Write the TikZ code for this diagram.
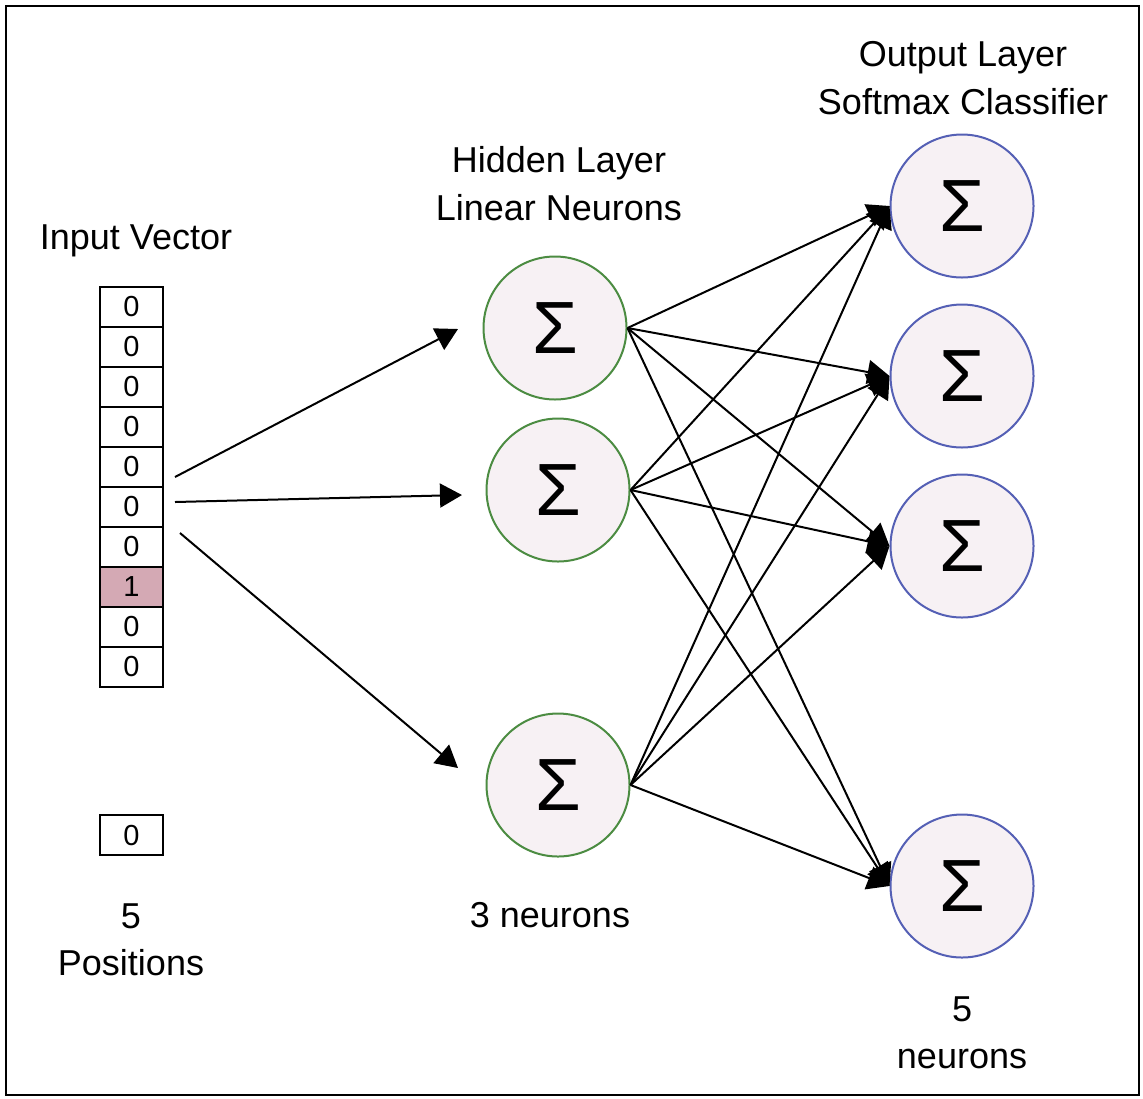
\documentclass[tikz,border=0pt]{standalone}
\usepackage{fontspec}
\setmainfont{Liberation Sans}
\usetikzlibrary{arrows.meta}

\definecolor{hidgreen}{RGB}{76,140,66}
\definecolor{outblue}{RGB}{85,96,181}
\definecolor{neurfill}{RGB}{247,241,244}
\definecolor{onepink}{RGB}{212,169,180}

\tikzset{
    cell/.style={draw, line width=0.9pt, minimum width=31.5pt, minimum height=20pt,
        inner sep=0pt, font=\fontsize{14.5}{16}\selectfont},
    neuron/.style={circle, draw, line width=1pt, fill=neurfill, minimum size=71.5pt,
        inner sep=0pt, font=\fontsize{37}{40}\selectfont},
    lbl/.style={anchor=base, inner sep=0pt, font=\fontsize{18}{24}\selectfont},
    arr/.style={-{Triangle[length=11pt,width=12pt]}, line width=1pt},
}

\begin{document}
\begin{tikzpicture}[x=0.5pt, y=-0.5pt]

    \useasboundingbox (0,0) rectangle (1143,1098);

    % Cornice
    \draw[line width=1.2pt] (6,6) rectangle (1139,1095);

    % Vettore di input
    \foreach \v/\f [count=\i from 0] in {0/white,0/white,0/white,0/white,0/white,
                                         0/white,0/white,1/onepink,0/white,0/white}
        \node[cell, fill=\f] (c\i) at (131.5,{307+40*\i}) {\v};
    \node[cell] (clast) at (131.5,835) {0};

    \node[lbl] (lin) at (136,249) {Input Vector};
    \node[lbl] (lpos1) at (131,928) {5};
    \node[lbl] (lpos2) at (131,975) {Positions};

    % Strato nascosto
    \node[neuron, draw=hidgreen] (h1) at (555,328) {Σ};
    \node[neuron, draw=hidgreen] (h2) at (558,490) {Σ};
    \node[neuron, draw=hidgreen] (h3) at (558,785) {Σ};

    \node[lbl] (lhid1) at (559,172) {Hidden Layer};
    \node[lbl] (lhid2) at (559,220) {Linear Neurons};
    \node[lbl] (lhid3) at (550,927) {3 neurons};

    % Strato di output
    \foreach \y [count=\o] in {206,376,546,886}
        \node[neuron, draw=outblue] (o\o) at (962,\y) {Σ};

    \node[lbl] (lout1) at (963,66) {Output Layer};
    \node[lbl] (lout2) at (963,114) {Softmax Classifier};
    \node[lbl] (lout3) at (962,1021) {5};
    \node[lbl] (lout4) at (962,1068) {neurons};

    % Frecce input -> nascosto
    \coordinate (s1) at (175,477);
    \coordinate (s2) at (175,502);
    \coordinate (s3) at (180,533);
    \coordinate (t1) at (458,329);
    \coordinate (t2) at (462,495);
    \coordinate (t3) at (458,768);
    \draw[arr] (s1) -- (t1);
    \draw[arr] (s2) -- (t2);
    \draw[arr] (s3) -- (t3);

    % Frecce nascosto -> output
    \foreach \h in {1,2,3}
        \foreach \o in {1,...,4}
            \draw[arr] (h\h.east) -- (o\o.west);

\end{tikzpicture}
\end{document}
